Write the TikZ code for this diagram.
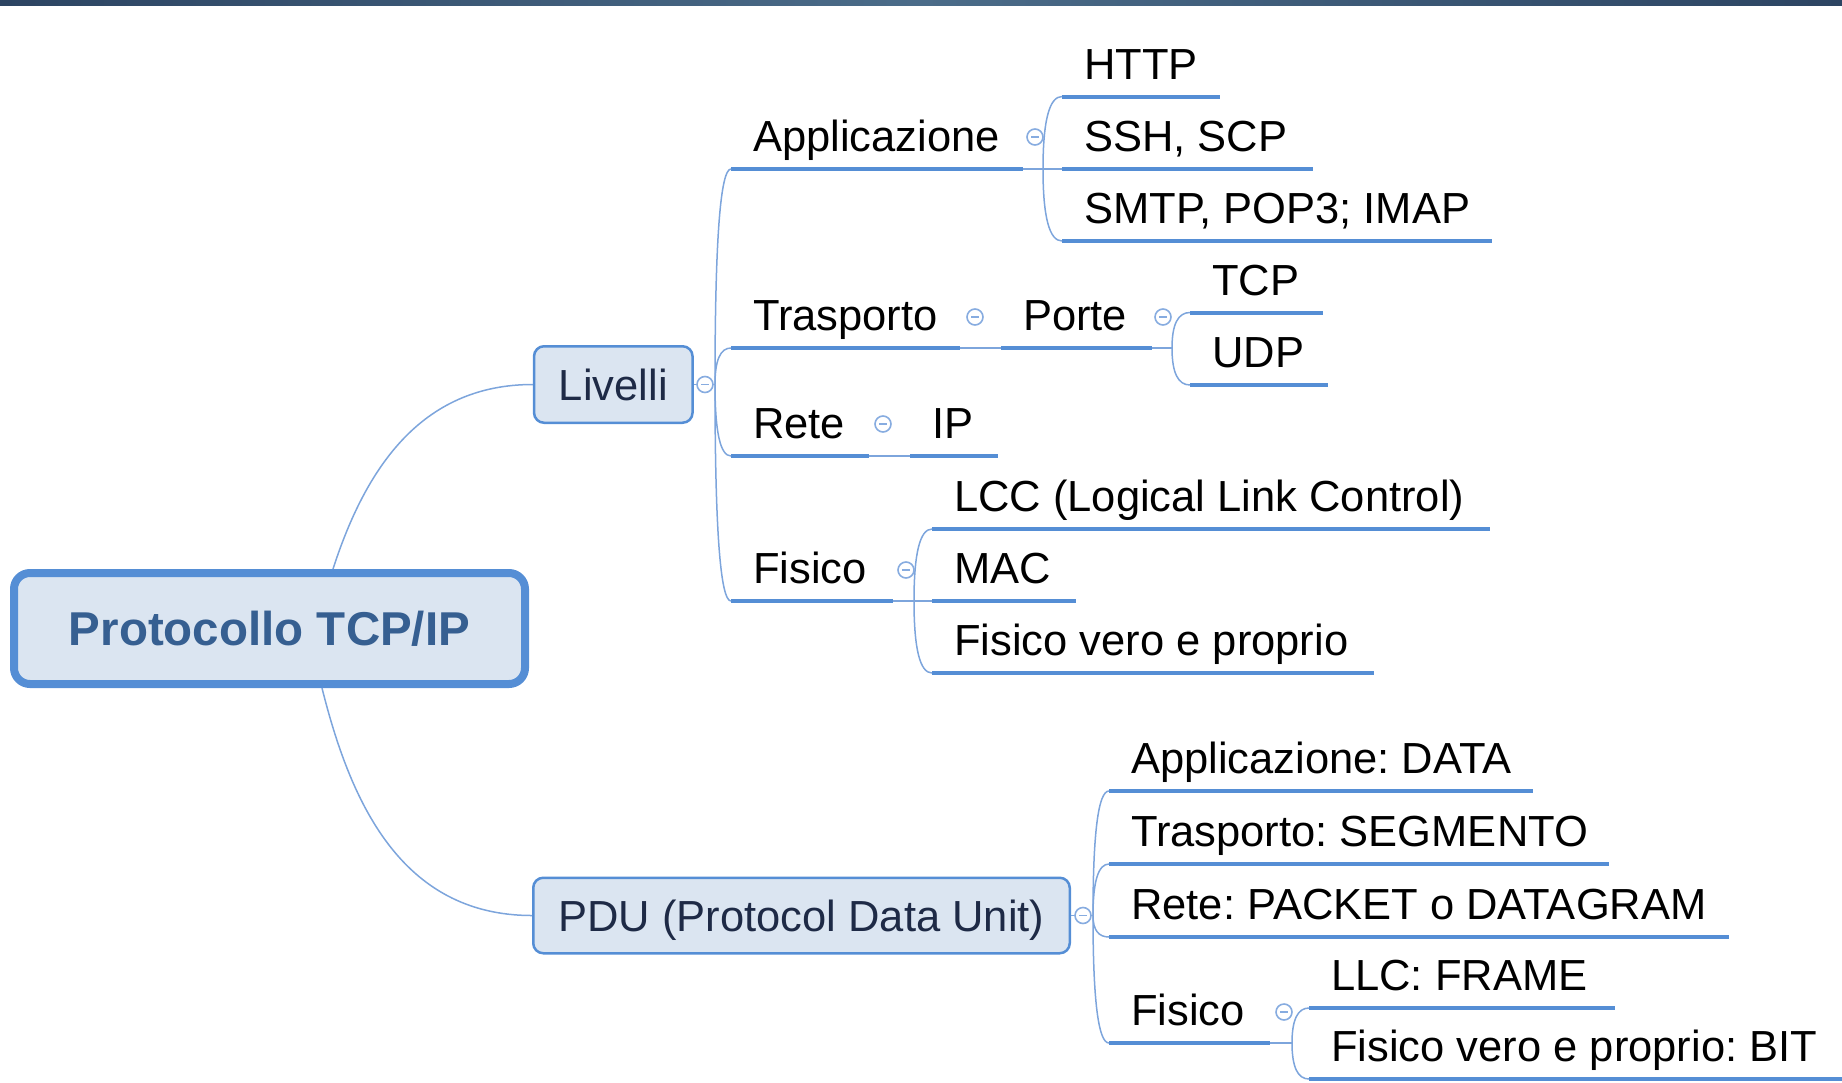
\documentclass[tikz,border=0pt]{standalone}
\usepackage{fontspec}
\setmainfont{Liberation Sans}
\usetikzlibrary{calc}
\definecolor{boxfill}{RGB}{219,229,241}
\definecolor{boxline}{RGB}{85,142,213}
\definecolor{ulcol}{RGB}{85,142,213}
\definecolor{conncol}{RGB}{125,165,220}
\definecolor{circcol}{RGB}{135,172,224}
\definecolor{roottext}{RGB}{54,95,145}
\definecolor{boxtext}{RGB}{30,42,70}
\definecolor{barA}{RGB}{44,68,98}
\definecolor{barB}{RGB}{75,108,137}
\tikzset{
  ulinestyle/.style={draw=ulcol, line width=4},
  connstyle/.style={draw=conncol, line width=1.5},
  topictext/.style={anchor=base west, inner sep=0, font=\fontsize{43.5}{50}\selectfont, text=black},
  collapsecirc/.style={circle, draw=circcol, fill=white, line width=1.6, minimum size=16, inner sep=0},
  boxnode/.style={draw=boxline, fill=boxfill, rounded corners=10, line width=2.5, text=boxtext,
     font=\fontsize{43.5}{50}\selectfont, text height=31, text depth=0, inner sep=0},
  rootbox/.style={draw=boxline, fill=boxfill, rounded corners=16, line width=8, text=roottext,
     font=\fontsize{47.5}{55}\selectfont\bfseries, text height=34, text depth=0, inner sep=0},
}
\newcommand\mmtopic[5]{%
  \coordinate (#1-s) at (#2,#3);
  \coordinate (#1-e) at (#4,#3);
  \draw[ulinestyle] (#1-s) -- (#1-e);
  \node[topictext] (#1) at ({#2+22},{#3-17.5}) {#5};
}
\newcommand\mmcollapse[3]{%
  \node[collapsecirc] (#1) at (#2,#3) {};
  \draw[draw=circcol, line width=1.5] ($(#1.center)+(-4,0)$) -- ($(#1.center)+(4,0)$);
}
% quadratic-like curve: vertical tangent at the branch point, horizontal at the child
\newcommand\mmbranch[2]{%
  \draw[connstyle] (#1) .. controls ($(#1)!0.667!(#1 |- #2)$) and ($(#2)!0.667!(#1 |- #2)$) .. (#2);
}
\begin{document}
\frenchspacing
\begin{tikzpicture}[x=1pt, y=-1pt]
\useasboundingbox (0,0) rectangle (1842,1082);
\shade[left color=barA, right color=barA, middle color=barB] (0,0) rectangle (1842,5);

% boxes
\node[rootbox, minimum width=511, minimum height=111] (root) at (269.5,628.5) {Protocollo TCP/IP};
\node[boxnode, minimum width=158.5, minimum height=76.5] (liv) at (613.3,384.5) {Livelli};
\node[boxnode, minimum width=536.5, minimum height=75.5] (pdu) at (801.5,915.5) {PDU (Protocol Data Unit)};

% topics of Livelli
\mmtopic{app}{731}{169}{1023}{Applicazione}
\mmtopic{tra}{731}{348}{960}{Trasporto}
\mmtopic{ret}{731}{456}{869}{Rete}
\mmtopic{fis}{731}{601}{893}{Fisico}
\mmtopic{http}{1062}{96.5}{1220}{HTTP}
\mmtopic{ssh}{1062}{169}{1313}{SSH, SCP}
\mmtopic{smtp}{1062}{241}{1492}{SMTP, POP3; IMAP}
\mmtopic{por}{1001}{348}{1152}{Porte}
\mmtopic{tcp}{1190}{312.5}{1323}{TCP}
\mmtopic{udp}{1190}{385}{1328}{UDP}
\mmtopic{ip}{910}{456}{998}{IP}
\mmtopic{lcc}{932}{529}{1490}{LCC (Logical Link Control)}
\mmtopic{mac}{932}{601}{1076}{MAC}
\mmtopic{fvp}{932}{673}{1374}{Fisico vero e proprio}

% topics of PDU
\mmtopic{pdata}{1109}{791}{1533}{Applicazione: DATA}
\mmtopic{pseg}{1109}{864}{1609}{Trasporto: SEGMENTO}
\mmtopic{ppack}{1109}{937}{1729}{Rete: PACKET o DATAGRAM}
\mmtopic{pfis}{1109}{1043}{1270}{Fisico}
\mmtopic{llc}{1309}{1008}{1615}{LLC: FRAME}
\mmtopic{bit}{1309}{1079}{1842}{Fisico vero e proprio: BIT}

% root connectors
\coordinate (rootUp) at (333,569);
\coordinate (rootDown) at (322,688);
\draw[connstyle] (rootUp) .. controls (365,470) and (420,384.5) .. (liv.west);
\draw[connstyle] (rootDown) .. controls (350,800) and (400,915.5) .. (pdu.west);

% branch points
\coordinate (livP) at (715,384.5);
\coordinate (appP) at (1043,169);
\coordinate (porP) at (1172,348);
\coordinate (fisP) at (914,601);
\coordinate (pduP) at (1093,915.5);
\coordinate (pfisP) at (1292,1043);

\draw[connstyle] (liv.east) -- (livP);
\mmbranch{livP}{app-s}
\mmbranch{livP}{tra-s}
\mmbranch{livP}{ret-s}
\mmbranch{livP}{fis-s}

\draw[connstyle] (app-e) -- (appP);
\mmbranch{appP}{http-s}
\mmbranch{appP}{ssh-s}
\mmbranch{appP}{smtp-s}

\draw[connstyle] (tra-e) -- (por-s);
\draw[connstyle] (por-e) -- (porP);
\mmbranch{porP}{tcp-s}
\mmbranch{porP}{udp-s}

\draw[connstyle] (ret-e) -- (ip-s);

\draw[connstyle] (fis-e) -- (fisP);
\mmbranch{fisP}{lcc-s}
\mmbranch{fisP}{mac-s}
\mmbranch{fisP}{fvp-s}

\draw[connstyle] (pdu.east) -- (pduP);
\mmbranch{pduP}{pdata-s}
\mmbranch{pduP}{pseg-s}
\mmbranch{pduP}{ppack-s}
\mmbranch{pduP}{pfis-s}

\draw[connstyle] (pfis-e) -- (pfisP);
\mmbranch{pfisP}{llc-s}
\mmbranch{pfisP}{bit-s}

% collapse markers
\mmcollapse{cliv}{705}{384.5}
\mmcollapse{capp}{1035}{137}
\mmcollapse{ctra}{975}{317}
\mmcollapse{cpor}{1163}{317}
\mmcollapse{cret}{883}{424}
\mmcollapse{cfis}{906}{570}
\mmcollapse{cpdu}{1083}{915.5}
\mmcollapse{cpfis}{1284}{1012}
\end{tikzpicture}
\end{document}
